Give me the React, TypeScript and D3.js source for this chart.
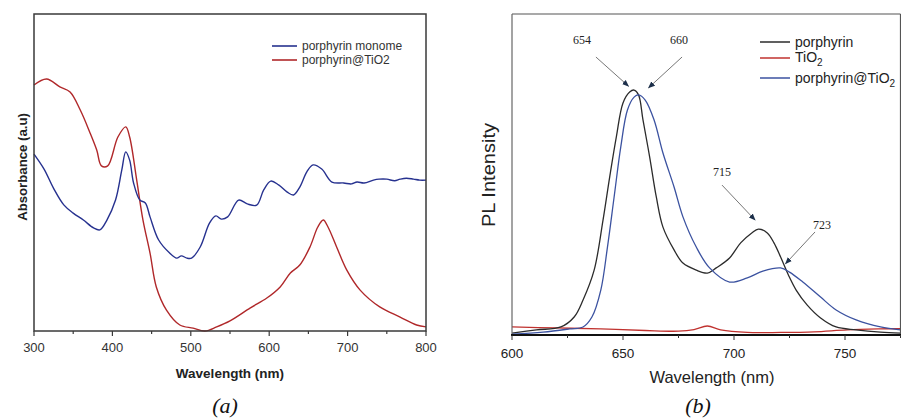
import React from 'react';
import * as d3 from 'd3';

// (a) UV-vis absorbance
const absWave = [300, 316, 333, 346, 359, 371, 380, 386, 394, 407, 417, 422, 431, 439, 448, 456, 469, 486, 503, 518, 533, 550, 576, 597, 614, 627, 639, 652, 662, 669, 675, 686, 699, 716, 741, 767, 788, 800];
const absTiO2 = [0.776, 0.795, 0.770, 0.754, 0.697, 0.628, 0.571, 0.521, 0.521, 0.612, 0.644, 0.612, 0.476, 0.350, 0.246, 0.139, 0.066, 0.019, 0.009, 0.000, 0.013, 0.032, 0.073, 0.104, 0.139, 0.183, 0.208, 0.265, 0.328, 0.350, 0.328, 0.265, 0.192, 0.129, 0.076, 0.044, 0.019, 0.013];

const monoWave = [300, 313, 325, 338, 350, 363, 376, 384, 393, 404, 412, 417, 422, 427, 435, 442, 448, 459, 473, 482, 488, 495, 501, 512, 524, 532, 539, 547, 561, 572, 584, 593, 602, 612, 623, 631, 639, 648, 656, 667, 680, 695, 705, 712, 721, 733, 740, 750, 760, 767, 775, 784, 792, 800];
const monoAbs = [0.558, 0.510, 0.450, 0.398, 0.372, 0.350, 0.325, 0.319, 0.350, 0.413, 0.508, 0.565, 0.539, 0.467, 0.413, 0.404, 0.360, 0.287, 0.246, 0.230, 0.237, 0.230, 0.230, 0.265, 0.341, 0.363, 0.353, 0.360, 0.413, 0.401, 0.397, 0.445, 0.473, 0.461, 0.438, 0.429, 0.454, 0.502, 0.524, 0.511, 0.470, 0.467, 0.464, 0.470, 0.467, 0.476, 0.479, 0.479, 0.474, 0.479, 0.482, 0.479, 0.476, 0.476];

// (b) photoluminescence
const plWaveP = [600, 611, 622, 628, 632, 637, 641, 644, 647, 650, 653, 655, 657, 659, 662, 665, 668, 673, 677, 683, 688, 692, 698, 703, 708, 711, 715, 718, 721, 724.5, 728, 733, 739, 746, 755, 766, 775];
const plPorph = [0.006, 0.016, 0.025, 0.056, 0.109, 0.202, 0.358, 0.492, 0.617, 0.723, 0.757, 0.763, 0.748, 0.670, 0.555, 0.430, 0.336, 0.265, 0.224, 0.202, 0.193, 0.209, 0.240, 0.287, 0.318, 0.330, 0.318, 0.287, 0.243, 0.187, 0.140, 0.093, 0.053, 0.025, 0.016, 0.009, 0.006];

const plWaveT = [600, 620, 640, 660, 675, 682, 688, 694, 706, 721, 736, 751, 766, 775];
const plTiO2 = [0.025, 0.022, 0.019, 0.014, 0.012, 0.017, 0.028, 0.016, 0.008, 0.008, 0.010, 0.016, 0.019, 0.020];

const plWaveC = [600, 614, 626, 632, 636, 640, 643, 646, 649, 652, 655, 657, 660, 664, 668, 673, 677, 683, 689, 698, 706, 713, 721, 725, 731, 739, 746, 755, 766, 775];
const plComposite = [0.003, 0.009, 0.019, 0.025, 0.056, 0.140, 0.274, 0.430, 0.586, 0.701, 0.741, 0.748, 0.732, 0.670, 0.567, 0.461, 0.368, 0.274, 0.209, 0.165, 0.178, 0.199, 0.209, 0.196, 0.165, 0.118, 0.078, 0.047, 0.025, 0.016];

const absTicks = [300, 400, 500, 600, 700, 800];
const plTicks = [600, 650, 700, 750];

// peak labels: text position, arrow tail, arrow tip (data units)
const peakNotes = [
  { label: '654', tx: 631.5, ty: 0.908, x1: 637.8, y1: 0.866, x2: 652.5, y2: 0.775 },
  { label: '660', tx: 675.2, ty: 0.905, x1: 676.6, y1: 0.866, x2: 661.5, y2: 0.770 },
  { label: '715', tx: 694.6, ty: 0.495, x1: 694.6, y1: 0.467, x2: 709.5, y2: 0.358 },
  { label: '723', tx: 739.6, ty: 0.330, x1: 736.5, y1: 0.321, x2: 723.2, y2: 0.222 },
];

const zip = (xs: number[], ys: number[]) => xs.map((x, i) => [x, ys[i]] as [number, number]);

const App = () => {
  const W = 901;
  const H = 420;

  // panel (a)
  const ax = d3.scaleLinear().domain([300, 800]).range([34, 426]);
  const ay = d3.scaleLinear().domain([0, 1]).range([331, 14]);
  const aLine = d3.line<[number, number]>().x((d) => ax(d[0])).y((d) => ay(d[1])).curve(d3.curveCatmullRom.alpha(0.5));

  // panel (b)
  const bx = d3.scaleLinear().domain([600, 775]).range([512, 900.5]);
  const by = d3.scaleLinear().domain([0, 1]).range([335, 14]);
  const bLine = d3.line<[number, number]>().x((d) => bx(d[0])).y((d) => by(d[1])).curve(d3.curveCatmullRom.alpha(0.5));

  const sans = 'Arial, "Liberation Sans", sans-serif';
  const serif = '"Times New Roman", "Liberation Serif", serif';

  return (
    <svg width={W} height={H} style={{ position: 'absolute', left: 0, top: 0, background: '#fff' }}>
      <defs>
        <marker id="arr" viewBox="0 0 10 10" refX="9" refY="5" markerWidth="7" markerHeight="7" orient="auto">
          <path d="M0,1 L10,5 L0,9 Z" fill="#1c2f4a" />
        </marker>
      </defs>

      {/* ---------- (a) ---------- */}
      <g>
        <path d={aLine(zip(absWave, absTiO2)) || ''} fill="none" stroke="#b0282a" strokeWidth={1.4} />
        <path d={aLine(zip(monoWave, monoAbs)) || ''} fill="none" stroke="#26318f" strokeWidth={1.4} />
        <rect x={34} y={14} width={392} height={317} fill="none" stroke="#3a3a3a" strokeWidth={1.5} />
        {d3.range(300, 801, 50).map((t) => (
          <line key={t} x1={ax(t)} x2={ax(t)} y1={331} y2={t % 100 === 0 ? 336 : 334} stroke="#3a3a3a" strokeWidth={1.2} />
        ))}
        {absTicks.map((t) => (
          <text key={t} x={ax(t)} y={352} textAnchor="middle" fontFamily={sans} fontSize={13} fill="#333">{t}</text>
        ))}
        <text x={230} y={378} textAnchor="middle" fontFamily={sans} fontWeight="bold" fontSize={13.5} fill="#222">Wavelength (nm)</text>
        <text transform="translate(27,167) rotate(-90)" textAnchor="middle" fontFamily={sans} fontWeight="bold" fontSize={13.2} fill="#222">Absorbance (a.u)</text>
        <line x1={272} x2={297} y1={46} y2={46} stroke="#26318f" strokeWidth={1.6} />
        <line x1={272} x2={297} y1={60} y2={60} stroke="#b0282a" strokeWidth={1.6} />
        <text x={302} y={50} fontFamily={sans} fontSize={12} fill="#333">porphyrin monome</text>
        <text x={302} y={64} fontFamily={sans} fontSize={12} fill="#333">porphyrin@TiO2</text>
        <text x={225} y={413} textAnchor="middle" fontFamily={serif} fontStyle="italic" fontSize={22} fill="#111">(a)</text>
      </g>

      {/* ---------- (b) ---------- */}
      <g>
        <path d={bLine(zip(plWaveT, plTiO2)) || ''} fill="none" stroke="#c0322f" strokeWidth={1.3} />
        <path d={bLine(zip(plWaveP, plPorph)) || ''} fill="none" stroke="#2b2b2b" strokeWidth={1.3} />
        <path d={bLine(zip(plWaveC, plComposite)) || ''} fill="none" stroke="#3b52a0" strokeWidth={1.3} />
        <line x1={512} x2={900.5} y1={14} y2={14} stroke="#555" strokeWidth={1.2} />
        <line x1={512} x2={512} y1={14} y2={335} stroke="#666" strokeWidth={1.2} />
        <line x1={900.5} x2={900.5} y1={14} y2={335} stroke="#555" strokeWidth={1.2} />
        <line x1={511} x2={901} y1={335} y2={335} stroke="#111" strokeWidth={2} />
        {d3.range(600, 776, 25).map((t) => (
          <line key={t} x1={bx(t)} x2={bx(t)} y1={335} y2={t % 50 === 0 ? 340 : 338} stroke="#333" strokeWidth={1} />
        ))}
        {plTicks.map((t) => (
          <text key={t} x={bx(t)} y={358} textAnchor="middle" fontFamily={sans} fontSize={13.5} fill="#222">{t}</text>
        ))}
        <text x={712} y={383} textAnchor="middle" fontFamily={sans} fontSize={16.5} fill="#222">Wavelength (nm)</text>
        <text transform="translate(495,175) rotate(-90)" textAnchor="middle" fontFamily={sans} fontSize={17.5} fill="#222" textLength={104} lengthAdjust="spacingAndGlyphs">PL Intensity</text>

        {peakNotes.map((n) => (
          <g key={n.label}>
            <line x1={bx(n.x1)} y1={by(n.y1)} x2={bx(n.x2)} y2={by(n.y2)} stroke="#777" strokeWidth={1} markerEnd="url(#arr)" />
            <text x={bx(n.tx)} y={by(n.ty)} textAnchor="middle" fontFamily={serif} fontSize={12} fill="#222">{n.label}</text>
          </g>
        ))}

        <line x1={760} x2={790} y1={42} y2={42} stroke="#2b2b2b" strokeWidth={1.5} />
        <line x1={760} x2={790} y1={58} y2={58} stroke="#c0322f" strokeWidth={1.5} />
        <line x1={760} x2={790} y1={78} y2={78} stroke="#3b52a0" strokeWidth={1.5} />
        <text x={795} y={47} fontFamily={sans} fontSize={14} fill="#222">porphyrin</text>
        <text x={795} y={62} fontFamily={sans} fontSize={14} fill="#222">TiO<tspan fontSize={10} dy={4}>2</tspan></text>
        <text x={795} y={83} fontFamily={sans} fontSize={14} fill="#222">porphyrin@TiO<tspan fontSize={10} dy={4}>2</tspan></text>
        <text x={698} y={413} textAnchor="middle" fontFamily={serif} fontStyle="italic" fontSize={22} fill="#111">(b)</text>
      </g>
    </svg>
  );
};

export default App;
